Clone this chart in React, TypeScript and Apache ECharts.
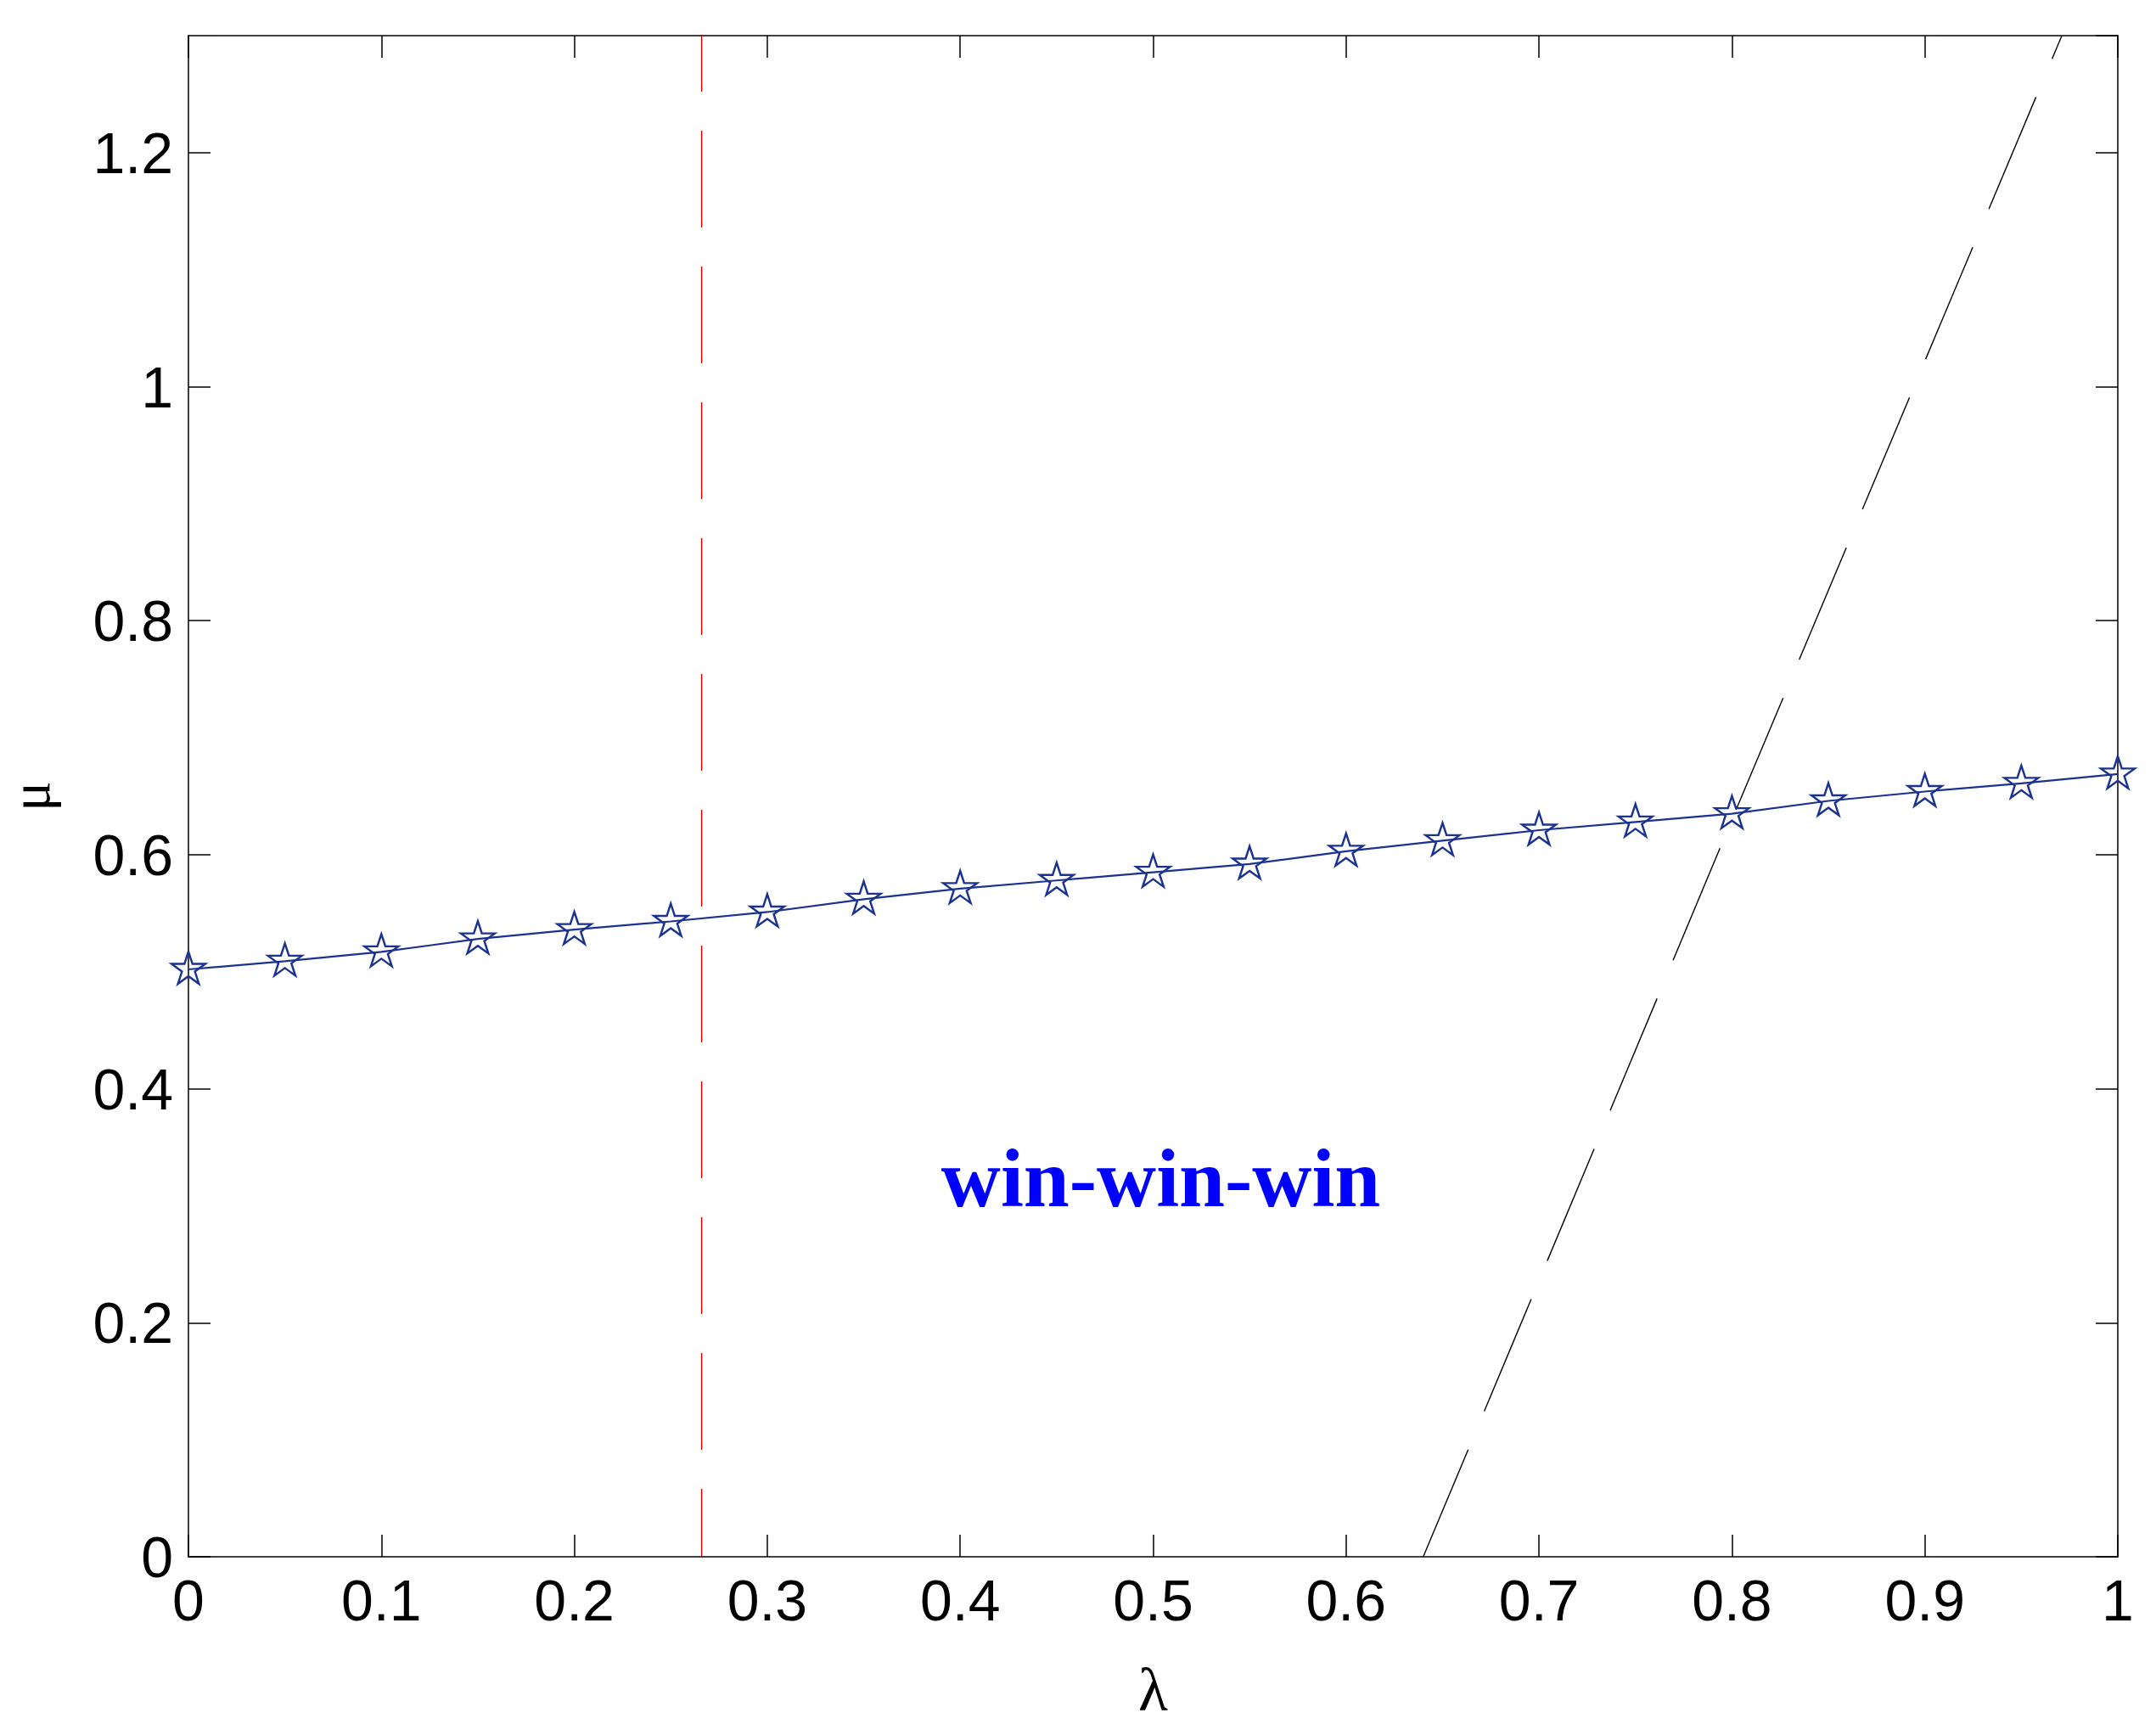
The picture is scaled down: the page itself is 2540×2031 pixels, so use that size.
import React, { useEffect, useRef } from "react";
import * as echarts from "echarts";

// Data
const lambdaValues = [0, 0.05, 0.1, 0.15, 0.2, 0.25, 0.3, 0.35, 0.4, 0.45, 0.5, 0.55, 0.6, 0.65, 0.7, 0.75, 0.8, 0.85, 0.9, 0.95, 1.0];
const muValues = [0.502, 0.509, 0.517, 0.528, 0.536, 0.543, 0.551, 0.562, 0.571, 0.578, 0.585, 0.592, 0.603, 0.612, 0.621, 0.628, 0.635, 0.646, 0.654, 0.661, 0.669];

// black dashed boundary (lambda, mu)
const boundaryLambda = [0.640, 0.700, 0.800, 0.900, 0.971];
const boundaryMu = [0.0, 0.236, 0.630, 1.022, 1.3];

// red dashed vertical line
const verticalLambda = 0.266;
const verticalMu = [1.3, 0.0];

const xTicks = { min: 0, max: 1, interval: 0.1 };
const yTicks = { min: 0, max: 1.3, interval: 0.2 };

const regionLabel = { text: "win-win-win", lambda: 0.504, mu: 0.323 };

const STAR_PATH =
  "path://M50 0 L61.23 34.55 L97.55 34.55 L68.16 55.9 L79.39 90.45 L50 69.1 L20.61 90.45 L31.84 55.9 L2.45 34.55 L38.77 34.55 Z";

export default function App() {
  const ref = useRef<HTMLDivElement>(null);

  useEffect(() => {
    if (!ref.current) return;
    const chart = echarts.init(ref.current, undefined, { renderer: "svg" });

    const axisLine = { show: true, onZero: false, lineStyle: { color: "#000", width: 1.5 } };
    const axisTick = { show: true, inside: true, length: 26, lineStyle: { color: "#000", width: 1.5 } };
    const labelFont = { color: "#000", fontSize: 68, fontFamily: "Liberation Sans, Arial, sans-serif" };

    const option: any = {
      animation: false,
      backgroundColor: "#fff",
      grid: { left: 222, right: 45, top: 42, bottom: 197, containLabel: false, outerBoundsMode: "none" },
      xAxis: [
        {
          type: "value",
          position: "bottom",
          ...xTicks,
          axisLine,
          axisTick,
          splitLine: { show: false },
          axisLabel: { ...labelFont, margin: 17 },
          name: "λ",
          nameLocation: "middle",
          nameGap: 121,
          nameTextStyle: { color: "#000", fontSize: 72, fontFamily: "Liberation Serif, serif" },
        },
        {
          type: "value",
          position: "top",
          ...xTicks,
          axisLine,
          axisTick,
          splitLine: { show: false },
          axisLabel: { show: false },
        },
      ],
      yAxis: [
        {
          type: "value",
          position: "left",
          ...yTicks,
          axisLine,
          axisTick,
          splitLine: { show: false },
          axisLabel: { ...labelFont, margin: 18, showMaxLabel: false },
          name: "μ",
          nameLocation: "middle",
          nameGap: 154,
          nameTextStyle: { color: "#000", fontSize: 66, lineHeight: 66, fontFamily: "Liberation Serif, serif" },
        },
        {
          type: "value",
          position: "right",
          ...yTicks,
          axisLine,
          axisTick,
          splitLine: { show: false },
          axisLabel: { show: false },
        },
      ],
      series: [
        {
          type: "line",
          data: verticalMu.map((m) => [verticalLambda, m]),
          symbol: "none",
          lineStyle: { color: "#d80000", width: 1.4, type: [114, 46], dashOffset: 48 },
          z: 2,
        },
        {
          type: "line",
          data: boundaryLambda.map((l, i) => [l, boundaryMu[i]]),
          symbol: "none",
          lineStyle: { color: "#000", width: 1.4, type: [143, 49], dashOffset: 6 },
          z: 2,
        },
        {
          type: "line",
          data: lambdaValues.map((l, i) => [l, muValues[i]]),
          symbol: STAR_PATH,
          symbolSize: [40, 38],
          symbolOffset: [0, -2],
          showAllSymbol: true,
          lineStyle: { color: "#1c3290", width: 2.2 },
          itemStyle: { color: "rgba(255,255,255,0)", borderColor: "#1c3290", borderWidth: 2.4 },
          z: 3,
        },
      ],
    };

    chart.setOption(option);

    const pos = chart.convertToPixel({ gridIndex: 0 }, [regionLabel.lambda, regionLabel.mu]) as number[];
    chart.setOption({
      graphic: [
        {
          type: "text",
          x: pos[0],
          y: pos[1],
          style: {
            text: regionLabel.text,
            fill: "#0000ff",
            fontSize: 97,
            fontWeight: "bold",
            fontFamily: "Liberation Serif, Times New Roman, serif",
            align: "center",
            verticalAlign: "middle",
          },
          z: 10,
        },
      ],
    });

    return () => chart.dispose();
  }, []);

  return (
    <div
      ref={ref}
      style={{ position: "fixed", left: 0, top: 0, width: 2540, height: 2031, background: "#fff" }}
    />
  );
}
